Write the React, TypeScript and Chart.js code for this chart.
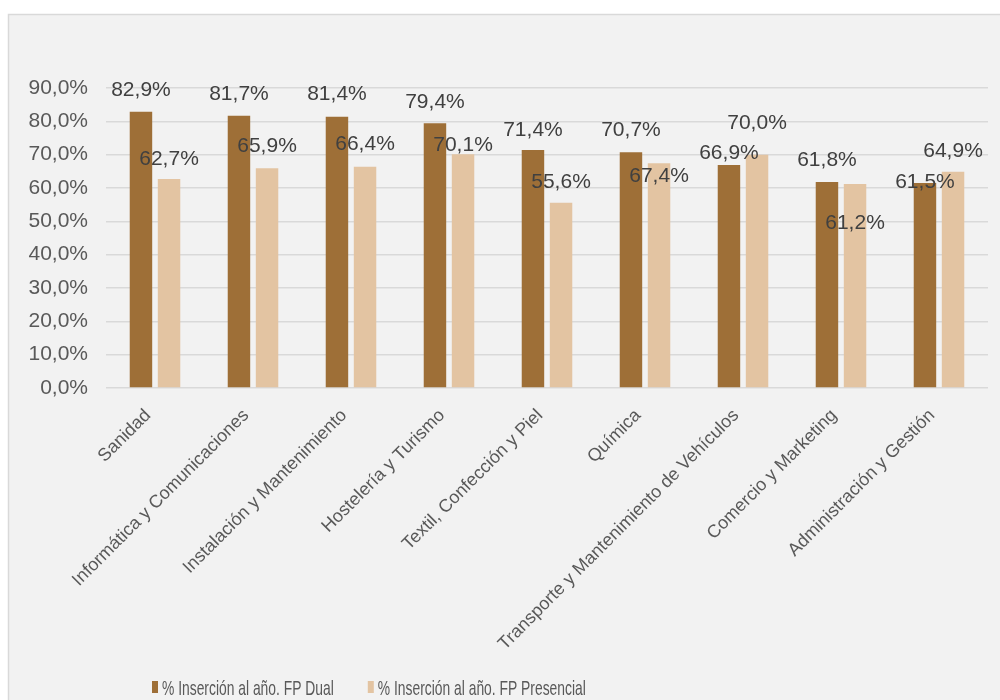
import React, { useEffect, useRef } from "react";
import { Chart, registerables } from "chart.js";

Chart.register(...registerables);

const categories = [
  "Sanidad",
  "Informática y Comunicaciones",
  "Instalación y Mantenimiento",
  "Hostelería y Turismo",
  "Textil, Confección y Piel",
  "Química",
  "Transporte y Mantenimiento de Vehículos",
  "Comercio y Marketing",
  "Administración y Gestión",
];
const dualValues = [82.9, 81.7, 81.4, 79.4, 71.4, 70.7, 66.9, 61.8, 61.5];
const presencialValues = [62.7, 65.9, 66.4, 70.1, 55.6, 67.4, 70.0, 61.2, 64.9];
const seriesNames = ["% Inserción al año. FP Dual", "% Inserción al año. FP Presencial"];
const yMin = 0;
const yMax = 90;
const yStep = 10;

// label placement (pixels above the bar top)
const dualLabelLift = [23, 23, 24, 23, 22, 24, 14, 24, 3];
const presLabelLift = [22, 24, 24, 11, 22, -11, 33, -37, 22];

const COLORS = ["#9e6f37", "#e3c4a2"];
const FONT = '"Liberation Sans", Arial, sans-serif';

const fmt = (v: number) => v.toFixed(1).replace(".", ",") + "%";

const backgroundPlugin = {
  id: "frameBg",
  beforeDraw(chart: any) {
    const { ctx, width, height } = chart;
    ctx.save();
    ctx.fillStyle = "#ffffff";
    ctx.fillRect(0, 0, width, height);
    ctx.fillStyle = "#f2f2f2";
    ctx.fillRect(8, 14, width, height);
    ctx.strokeStyle = "#d9d9d9";
    ctx.lineWidth = 1.5;
    ctx.strokeRect(8.5, 14.5, width + 10, height + 10);
    ctx.restore();
  },
};

const dataLabelPlugin = {
  id: "valueLabels",
  afterDatasetsDraw(chart: any) {
    const { ctx } = chart;
    const lifts = [dualLabelLift, presLabelLift];
    ctx.save();
    ctx.font = `21px ${FONT}`;
    ctx.fillStyle = "#404040";
    ctx.textAlign = "center";
    ctx.textBaseline = "alphabetic";
    chart.data.datasets.forEach((ds: any, di: number) => {
      const meta = chart.getDatasetMeta(di);
      meta.data.forEach((el: any, i: number) => {
        const cy = el.y - lifts[di][i];
        ctx.fillText(fmt(ds.data[i]), el.x, cy + 7.5);
      });
    });
    ctx.restore();
  },
};

const legendPlugin = {
  id: "squeezedLegend",
  afterDraw(chart: any) {
    const { ctx } = chart;
    const squeeze = 0.66;
    ctx.save();
    ctx.font = `21px ${FONT}`;
    ctx.textBaseline = "alphabetic";
    ctx.textAlign = "left";
    let x = 152;
    chart.data.datasets.forEach((ds: any) => {
      ctx.fillStyle = ds.backgroundColor;
      ctx.fillRect(x, 681, 6, 12);
      const tx = x + 10;
      ctx.fillStyle = "#595959";
      ctx.save();
      ctx.translate(tx, 695);
      ctx.scale(squeeze, 1);
      ctx.fillText(ds.label, 0, 0);
      ctx.restore();
      const w = ctx.measureText(ds.label).width * squeeze;
      x = tx + w + 34;
    });
    ctx.restore();
  },
};

export default function App() {
  const ref = useRef<HTMLCanvasElement>(null);
  useEffect(() => {
    if (!ref.current) return;
    const chart = new Chart(ref.current, {
      type: "bar",
      data: {
        labels: categories,
        datasets: [
          {
            label: seriesNames[0],
            data: dualValues,
            backgroundColor: COLORS[0],
            barPercentage: 0.8,
            categoryPercentage: 0.573,
          },
          {
            label: seriesNames[1],
            data: presencialValues,
            backgroundColor: COLORS[1],
            barPercentage: 0.8,
            categoryPercentage: 0.573,
          },
        ],
      },
      options: {
        animation: false,
        responsive: false,
        devicePixelRatio: 1,
        layout: { padding: { top: 88, right: 12, left: 0, bottom: 0 } },
        plugins: {
          legend: { display: false },
          tooltip: { enabled: false },
        },
        scales: {
          x: {
            grid: { display: false },
            border: { display: false },
            ticks: {
              font: { family: FONT, size: 18 },
              color: "#595959",
              maxRotation: 45,
              minRotation: 45,
              autoSkip: false,
              labelOffset: -7,
              padding: 9,
            },
            afterFit(scale: any) {
              scale.height = 312;
            },
          },
          y: {
            min: yMin,
            max: yMax,
            ticks: {
              stepSize: yStep,
              font: { family: FONT, size: 21 },
              color: "#595959",
              padding: 18,
              callback: (v: any) => fmt(Number(v)),
            },
            grid: { color: "#d9d9d9", lineWidth: 1.5, drawTicks: false },
            border: { display: false },
            afterFit(scale: any) {
              scale.width = 106;
            },
          },
        },
      },
      plugins: [backgroundPlugin, dataLabelPlugin, legendPlugin],
    });
    return () => chart.destroy();
  }, []);
  return (
    <div style={{ position: "fixed", left: 0, top: 0, width: 1000, height: 700 }}>
      <canvas ref={ref} width={1000} height={700} />
    </div>
  );
}
